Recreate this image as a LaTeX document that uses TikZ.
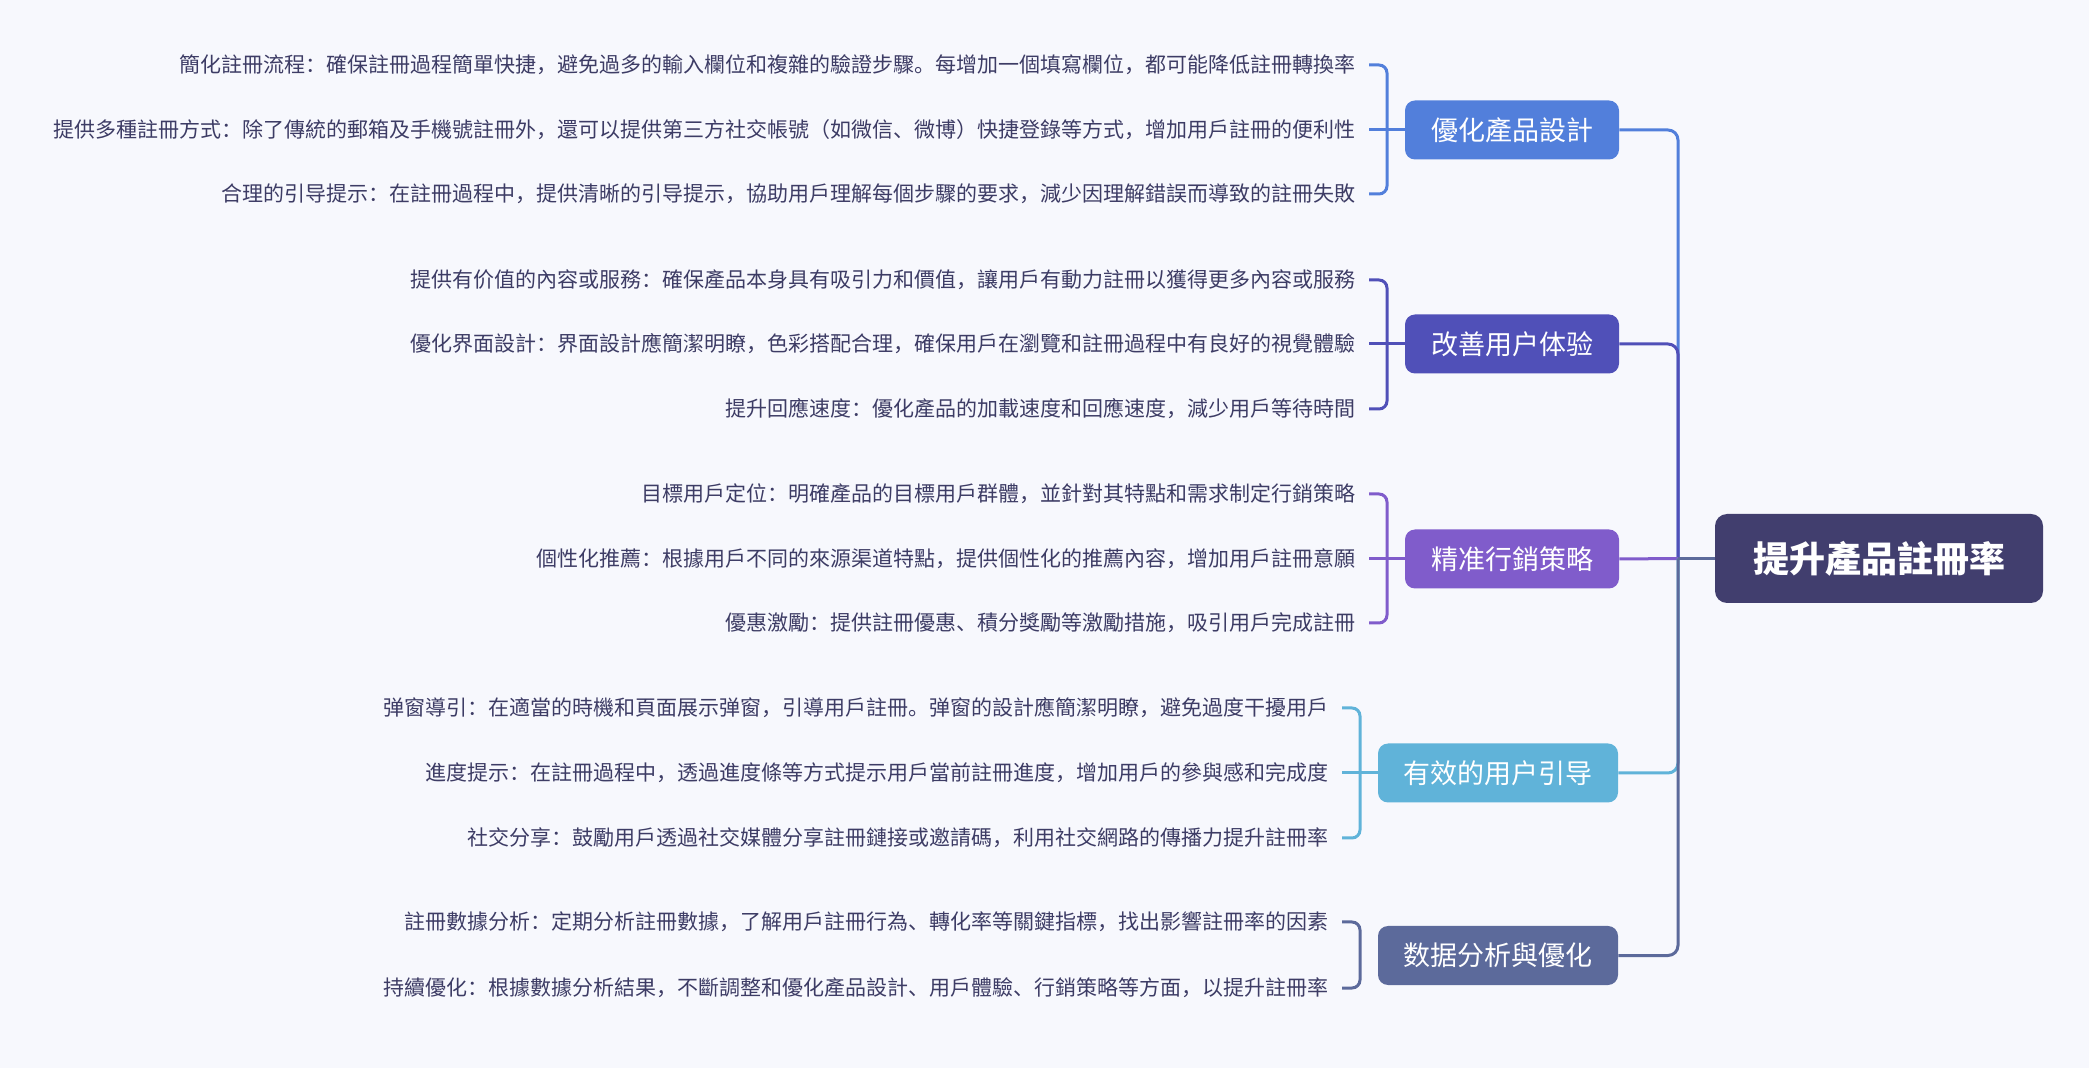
\documentclass[tikz,border=0pt]{standalone}
\usepackage{fontspec}
\setmainfont{Noto Sans CJK SC}

\definecolor{bgcol}{HTML}{F7F8FD}
\definecolor{leafcol}{HTML}{3D3C65}
\definecolor{rootcol}{HTML}{413E6E}
\definecolor{designcol}{HTML}{527FDB}
\definecolor{uxcol}{HTML}{5050B8}
\definecolor{mktcol}{HTML}{805CCB}
\definecolor{guidecol}{HTML}{60B3D9}
\definecolor{datacol}{HTML}{5C6A9B}

\begin{document}
\begin{tikzpicture}[x=0.5pt,y=-0.5pt,
  rootbox/.style={fill=rootcol,text=white,rounded corners=6pt,minimum width=164pt,minimum height=44.5pt,font=\fontsize{18pt}{20pt}\selectfont\bfseries},
  topicbox/.style={fill=#1,text=white,rounded corners=5pt,minimum height=29.5pt,inner sep=0pt,font=\fontsize{13.5pt}{16pt}\selectfont},
  leaftext/.style={anchor=east,text=leafcol,inner xsep=6.5pt,inner ysep=0pt,text height=0.86em,text depth=0.14em,font=\fontsize{10.5pt}{13pt}\selectfont},
  linkline/.style={draw=#1,line width=1.5pt,rounded corners=5pt},
  bracketline/.style={draw=#1,line width=1.5pt,rounded corners=4pt}]
\useasboundingbox[fill=bgcol] (0,0) rectangle (2089,1068);

\node[rootbox] (root) at (1879,558.5) {提升產品註冊率};
\coordinate (trunk) at (1678,558.5);

\node[topicbox=designcol,minimum width=107pt] (design) at (1512,130) {優化產品設計};
\node[topicbox=uxcol,minimum width=107pt] (ux) at (1512,344) {改善用户体验};
\node[topicbox=mktcol,minimum width=107pt] (mkt) at (1512,559) {精准行銷策略};
\node[topicbox=guidecol,minimum width=120pt] (guide) at (1498,773) {有效的用户引导};
\node[topicbox=datacol,minimum width=120pt] (data) at (1498,955.5) {数据分析與優化};

% leaves
\node[leaftext] (design1) at (1369,65) {簡化註冊流程：確保註冊過程簡單快捷，避免過多的輸入欄位和複雜的驗證步驟。每增加一個填寫欄位，都可能降低註冊轉換率};
\node[leaftext] (design2) at (1369,130) {提供多種註冊方式：除了傳統的郵箱及手機號註冊外，還可以提供第三方社交帳號（如微信、微博）快捷登錄等方式，增加用戶註冊的便利性};
\node[leaftext] (design3) at (1369,194) {合理的引导提示：在註冊過程中，提供清晰的引导提示，協助用戶理解每個步驟的要求，減少因理解錯誤而導致的註冊失敗};

\node[leaftext] (ux1) at (1369,280) {提供有价值的內容或服務：確保產品本身具有吸引力和價值，讓用戶有動力註冊以獲得更多內容或服務};
\node[leaftext] (ux2) at (1369,344) {優化界面設計：界面設計應簡潔明瞭，色彩搭配合理，確保用戶在瀏覽和註冊過程中有良好的視覺體驗};
\node[leaftext] (ux3) at (1369,409) {提升回應速度：優化產品的加載速度和回應速度，減少用戶等待時間};

\node[leaftext] (mkt1) at (1369,494) {目標用戶定位：明確產品的目標用戶群體，並針對其特點和需求制定行銷策略};
\node[leaftext] (mkt2) at (1369,559) {個性化推薦：根據用戶不同的來源渠道特點，提供個性化的推薦內容，增加用戶註冊意願};
\node[leaftext] (mkt3) at (1369,623) {優惠激勵：提供註冊優惠、積分獎勵等激勵措施，吸引用戶完成註冊};

\node[leaftext] (guide1) at (1342,708) {弹窗導引：在適當的時機和頁面展示弹窗，引導用戶註冊。弹窗的設計應簡潔明瞭，避免過度干擾用戶};
\node[leaftext] (guide2) at (1342,773) {進度提示：在註冊過程中，透過進度條等方式提示用戶當前註冊進度，增加用戶的參與感和完成度};
\node[leaftext] (guide3) at (1342,838) {社交分享：鼓勵用戶透過社交媒體分享註冊鏈接或邀請碼，利用社交網路的傳播力提升註冊率};

\node[leaftext] (data1) at (1342,922) {註冊數據分析：定期分析註冊數據，了解用戶註冊行為、轉化率等關鍵指標，找出影響註冊率的因素};
\node[leaftext] (data2) at (1342,988) {持續優化：根據數據分析結果，不斷調整和優化產品設計、用戶體驗、行銷策略等方面，以提升註冊率};

% root to topics
\draw[linkline=designcol] (trunk) |- (design.east);
\draw[linkline=uxcol] (trunk) |- (ux.east);
\draw[linkline=mktcol] (trunk) -- (mkt.east);
\draw[linkline=guidecol] (trunk) |- (guide.east);
\draw[linkline=datacol] (trunk) |- (data.east);
\draw[linkline=datacol] (root.west) -- (trunk);

% topics to leaves
\draw[bracketline=designcol] (design1.east) -- ++(18,0) |- (design3.east);
\draw[linkline=designcol] (design.west) -- (design2.east);
\draw[bracketline=uxcol] (ux1.east) -- ++(18,0) |- (ux3.east);
\draw[linkline=uxcol] (ux.west) -- (ux2.east);
\draw[bracketline=mktcol] (mkt1.east) -- ++(18,0) |- (mkt3.east);
\draw[linkline=mktcol] (mkt.west) -- (mkt2.east);
\draw[bracketline=guidecol] (guide1.east) -- ++(18,0) |- (guide3.east);
\draw[linkline=guidecol] (guide.west) -- (guide2.east);
\draw[bracketline=datacol] (data1.east) -- ++(18,0) |- (data2.east);
\end{tikzpicture}
\end{document}
